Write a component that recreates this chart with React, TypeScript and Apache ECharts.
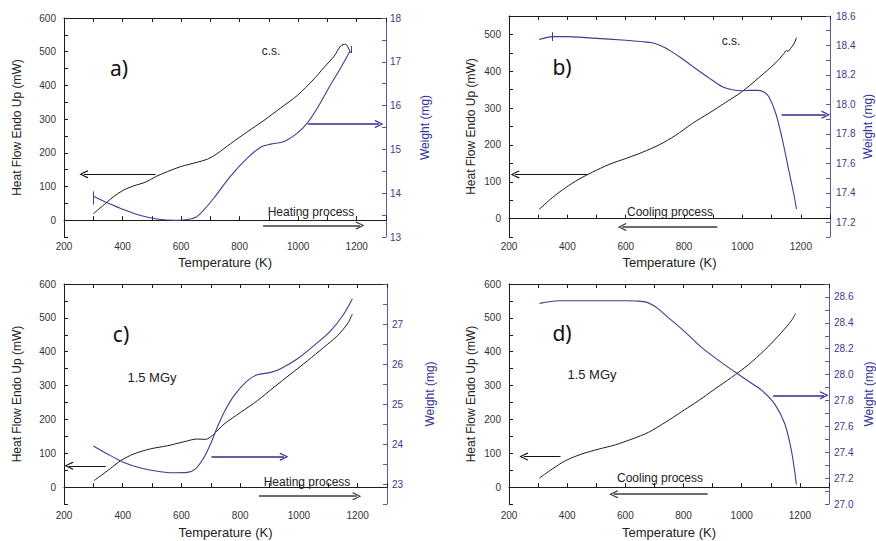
import React, { useEffect, useRef } from "react";
import * as echarts from "echarts";

// ---------- Panel a) c.s., heating ----------
const aHeatT = [300, 337, 371, 405, 439, 479, 513, 553, 599, 656, 690, 724, 769, 826, 883, 940, 997, 1054, 1088, 1123, 1145, 1162, 1174, 1179];
const aHeatV = [19, 46, 71, 90, 102, 113, 129, 144, 159, 172, 181, 198, 227, 262, 296, 333, 370, 419, 453, 487, 517, 522, 507, 497];
const aWeightT = [300, 348, 405, 462, 519, 576, 621, 650, 678, 712, 769, 826, 872, 906, 952, 997, 1031, 1066, 1111, 1145, 1177];
const aWeightV = [13.93, 13.78, 13.62, 13.49, 13.41, 13.38, 13.4, 13.45, 13.62, 13.89, 14.39, 14.8, 15.05, 15.12, 15.18, 15.37, 15.6, 15.95, 16.48, 16.86, 17.24];

// ---------- Panel b) c.s., cooling ----------
const bHeatT = [303, 349, 394, 440, 486, 543, 600, 657, 714, 771, 828, 885, 942, 999, 1057, 1114, 1142, 1150, 1156, 1165, 1177, 1185];
const bHeatV = [25, 57, 84, 107, 126, 147, 163, 180, 200, 226, 258, 286, 315, 345, 383, 423, 448, 456, 454, 462, 475, 491];
const bWeightT = [303, 349, 394, 486, 600, 660, 690, 712, 735, 760, 790, 828, 885, 931, 965, 999, 1030, 1055, 1075, 1091, 1114, 1137, 1159, 1177, 1185];
const bWeightV = [18.44, 18.46, 18.46, 18.45, 18.435, 18.425, 18.418, 18.405, 18.385, 18.355, 18.315, 18.26, 18.18, 18.12, 18.1, 18.093, 18.095, 18.095, 18.082, 18.05, 17.94, 17.76, 17.55, 17.38, 17.29];

// ---------- Panel c) 1.5 MGy, heating ----------
const cHeatT = [302, 348, 393, 438, 495, 552, 609, 654, 682, 711, 745, 802, 858, 915, 972, 1029, 1085, 1131, 1165, 1182];
const cHeatV = [19, 48, 78, 98, 113, 122, 134, 142, 141, 157, 186, 221, 255, 295, 334, 373, 413, 447, 482, 511];
const cWeightT = [300, 348, 404, 461, 518, 575, 620, 648, 677, 699, 722, 745, 779, 824, 858, 904, 938, 995, 1051, 1108, 1153, 1182];
const cWeightV = [23.95, 23.75, 23.54, 23.4, 23.32, 23.28, 23.29, 23.38, 23.67, 24.0, 24.42, 24.79, 25.21, 25.58, 25.73, 25.79, 25.88, 26.13, 26.46, 26.83, 27.25, 27.63];

// ---------- Panel d) 1.5 MGy, cooling ----------
const dHeatT = [305, 348, 394, 451, 508, 566, 623, 680, 737, 794, 851, 908, 965, 1022, 1079, 1137, 1171, 1185];
const dHeatV = [27, 53, 78, 98, 112, 125, 142, 162, 191, 223, 255, 290, 324, 361, 405, 457, 492, 513];
const dWeightT = [305, 371, 486, 600, 645, 672, 692, 712, 748, 805, 862, 920, 977, 1022, 1068, 1114, 1148, 1171, 1188];
const dWeightV = [28.55, 28.57, 28.57, 28.57, 28.568, 28.56, 28.54, 28.51, 28.44, 28.33, 28.21, 28.11, 28.02, 27.95, 27.88, 27.77, 27.62, 27.41, 27.15];

// Axis ranges
const xRange = [200, 1300];
const leftRanges = [[-50, 600], [-50, 550], [-50, 600], [-50, 600]];
const rightRanges = [[13, 18, 0.5], [17.1, 18.6, 0.1], [22.5, 28, 0.5], [27.0, 28.7, 0.1]];

// Arrows: [x1, y1, x2, y2] in data units (head at the second point)
const heatArrows = [[513, 136, 268, 136], [468, 120, 221, 120], [342, 63, 217, 63], [377, 90, 251, 90]];
const processArrows = [[880, -16, 1211, -16], [914, -23, 588, -23], [864, -27, 1197, -27], [883, -21, 560, -21]];
const weightArrows = [[1034, 15.58, 1276, 15.58], [1134, 17.93, 1285, 17.93], [702, 23.68, 949, 23.68], [1108, 27.84, 1283, 27.84]];
// Small vertical marks on weight curves: [x, y1, y2]
const weightMarks = [[[300, 13.74, 14.04], [1180, 17.2, 17.36]], [[349, 18.43, 18.49]], [], []];

const panelLetters = ["a)", "b)", "c)", "d)"];
const sampleLabels = ["c.s.", "c.s.", "1.5 MGy", "1.5 MGy"];
const processLabels = ["Heating process", "Cooling process", "Heating process", "Cooling process"];

const zip = (xs: number[], ys: number[]) => xs.map((x, i) => [x, ys[i]]);

const FONT = "'Liberation Sans', Arial, sans-serif";
const BLACK = "#1c1c1c";
const BLUE = "#3d3d92";
const ARROW_BLUE = "#2e2e8e";
const GREY = "#3c3c3c";
const AXIS_BLUE = "#5a5aa6";
const chevron = "path://M0,9 L5,0 L10,9 L8.8,10 L5,2.6 L1.2,10 Z";

const layouts = [
  { grid: { left: 64, top: 18, width: 322, height: 219 }, lGap: 41, rGap: 33, xGap: 19, xMargin: 4, rMargin: 4,
    letter: [119, 68], sample: [271, 51], process: [311, 212] },
  { grid: { left: 509, top: 16, width: 321, height: 221 }, lGap: 32, rGap: 32, xGap: 19, xMargin: 4, rMargin: 6,
    letter: [562, 67], sample: [731, 41], process: [670, 212] },
  { grid: { left: 64, top: 284, width: 323, height: 220 }, lGap: 41, rGap: 37, xGap: 22, xMargin: 6, rMargin: 5,
    letter: [121, 334], sample: [152, 377], process: [307, 482] },
  { grid: { left: 509, top: 284, width: 321, height: 220 }, lGap: 32, rGap: 34, xGap: 22, xMargin: 6, rMargin: 5,
    letter: [562, 333], sample: [592, 374], process: [660, 478] },
];

const heatData = [zip(aHeatT, aHeatV), zip(bHeatT, bHeatV), zip(cHeatT, cHeatV), zip(dHeatT, dHeatV)];
const weightData = [zip(aWeightT, aWeightV), zip(bWeightT, bWeightV), zip(cWeightT, cWeightV), zip(dWeightT, dWeightV)];

function arrowItem(a: number[], color: string, width: number) {
  const ls = { color, width, type: "solid" };
  return [
    { coord: [a[0], a[1]], symbol: "none", lineStyle: ls },
    { coord: [a[2], a[3]], symbol: chevron, symbolSize: [8, 9], lineStyle: ls },
  ];
}

function buildOption() {
  const grid: any[] = [];
  const xAxis: any[] = [];
  const yAxis: any[] = [];
  const series: any[] = [];
  const graphic: any[] = [];

  layouts.forEach((L, i) => {
    grid.push({ ...L.grid, containLabel: false });
    const [rMin, rMax, rInt] = rightRanges[i];
    const fineRight = rInt < 0.5;

    xAxis.push({
      type: "value", gridIndex: i, position: "bottom", min: xRange[0], max: xRange[1], interval: 100,
      axisLine: { show: true, lineStyle: { color: BLACK, width: 1 } },
      axisTick: { show: true, inside: true, length: 4, lineStyle: { color: BLACK } },
      axisLabel: {
        margin: L.xMargin, fontSize: 10, fontFamily: FONT, color: "#333",
        formatter: (v: number) => (v % 200 === 0 && v <= 1200 ? String(v) : ""),
      },
      splitLine: { show: false },
      name: "Temperature (K)", nameLocation: "middle", nameGap: L.xGap,
      nameTextStyle: { fontSize: 13, fontFamily: FONT, color: "#222" },
    });
    xAxis.push({
      type: "value", gridIndex: i, position: "top", min: xRange[0], max: xRange[1], interval: 100,
      axisLine: { show: true, lineStyle: { color: BLACK, width: 1 } },
      axisTick: { show: true, inside: true, length: 4, lineStyle: { color: BLACK } },
      axisLabel: { show: false },
      splitLine: { show: false },
    });

    yAxis.push({
      type: "value", gridIndex: i, position: "left", min: leftRanges[i][0], max: leftRanges[i][1], interval: 50,
      axisLine: { show: true, lineStyle: { color: BLACK, width: 1 } },
      axisTick: { show: true, inside: true, length: 4, lineStyle: { color: BLACK } },
      axisLabel: {
        margin: 8, fontSize: 10, fontFamily: FONT, color: "#333",
        formatter: (v: number) => (v >= 0 && v % 100 === 0 ? String(v) : ""),
      },
      splitLine: { show: false },
      name: "Heat Flow Endo Up (mW)", nameLocation: "middle", nameGap: L.lGap, nameRotate: 90,
      nameTextStyle: { fontSize: 12, fontFamily: FONT, color: "#222" },
    });
    yAxis.push({
      type: "value", gridIndex: i, position: "right", min: rMin, max: rMax, interval: rInt,
      axisLine: { show: true, lineStyle: { color: AXIS_BLUE, width: 1 } },
      axisTick: { show: true, inside: true, length: 4, lineStyle: { color: AXIS_BLUE } },
      axisLabel: {
        margin: L.rMargin, fontSize: 10, fontFamily: FONT, color: "#3a3a8a",
        formatter: (v: number) => {
          if (fineRight) {
            const k = Math.round(v * 10);
            return k % 2 === 0 ? (k / 10).toFixed(1) : "";
          }
          const isInt = Math.abs(v - Math.round(v)) < 1e-6;
          return isInt && (v < rMax - 1e-6 || i === 0) ? String(Math.round(v)) : "";
        },
      },
      splitLine: { show: false },
      name: "Weight (mg)", nameLocation: "middle", nameGap: L.rGap, nameRotate: 90,
      nameTextStyle: { fontSize: 12, fontFamily: FONT, color: "#33339a" },
    });

    series.push({
      type: "line", xAxisIndex: 2 * i, yAxisIndex: 2 * i, data: heatData[i],
      showSymbol: false, smooth: 0.3, silent: true,
      lineStyle: { color: BLACK, width: 1 }, itemStyle: { color: BLACK },
      markLine: {
        silent: true, animation: false, label: { show: false }, symbol: ["none", chevron], symbolSize: [8, 9],
        data: [arrowItem(heatArrows[i], "#111", 1.2), arrowItem(processArrows[i], GREY, 1.6)],
      },
    });
    const marks = weightMarks[i].map((m) => [
      { coord: [m[0], m[1]], symbol: "none", lineStyle: { color: BLUE, width: 1, type: "solid" } },
      { coord: [m[0], m[2]], symbol: "none", lineStyle: { color: BLUE, width: 1, type: "solid" } },
    ]);
    series.push({
      type: "line", xAxisIndex: 2 * i, yAxisIndex: 2 * i + 1, data: weightData[i],
      showSymbol: false, smooth: 0.3, silent: true,
      lineStyle: { color: BLUE, width: 1.1 }, itemStyle: { color: BLUE },
      markLine: {
        silent: true, animation: false, label: { show: false }, symbol: ["none", chevron], symbolSize: [8, 9],
        data: [arrowItem(weightArrows[i], ARROW_BLUE, 1.6), ...marks],
      },
    });

    graphic.push({
      type: "text", x: L.letter[0], y: L.letter[1], silent: true,
      style: { text: panelLetters[i], fontSize: 21, fontFamily: "'Noto Sans', " + FONT, fill: "#111", align: "center", verticalAlign: "middle" },
    });
    graphic.push({
      type: "text", x: L.sample[0], y: L.sample[1], silent: true,
      style: { text: sampleLabels[i], fontSize: i < 2 ? 12 : 13, fontFamily: FONT, fill: "#222", align: "center", verticalAlign: "middle" },
    });
    graphic.push({
      type: "text", x: L.process[0], y: L.process[1], silent: true,
      style: { text: processLabels[i], fontSize: 12, fontFamily: FONT, fill: "#222", align: "center", verticalAlign: "middle" },
    });
  });

  return { animation: false, backgroundColor: "#ffffff", grid, xAxis, yAxis, series, graphic };
}

export default function App() {
  const ref = useRef<HTMLDivElement>(null);
  useEffect(() => {
    if (!ref.current) return;
    const chart = echarts.init(ref.current, undefined, { renderer: "svg" });
    chart.setOption(buildOption() as any);
    return () => chart.dispose();
  }, []);
  return (
    <div
      ref={ref}
      style={{ position: "fixed", left: 0, top: 0, width: 876, height: 541, background: "#fff" }}
    />
  );
}
